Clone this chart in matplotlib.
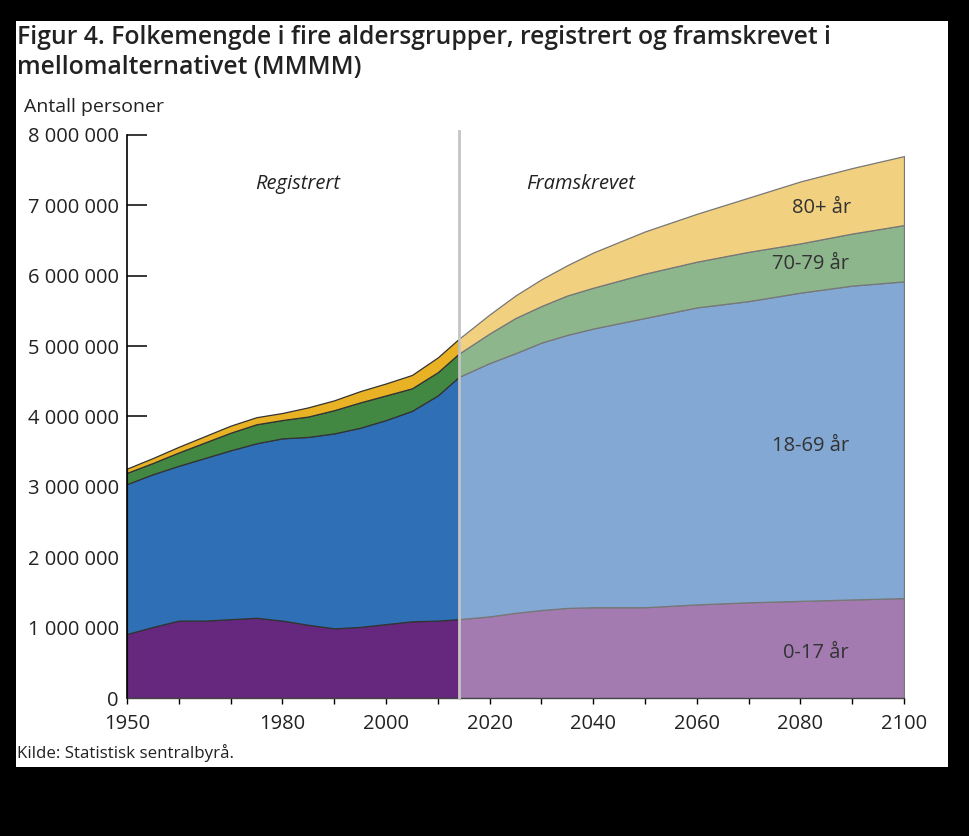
import numpy as np
import matplotlib
matplotlib.use("Agg")
from matplotlib import pyplot as plt
from matplotlib.patches import Rectangle
from matplotlib.ticker import FuncFormatter

plt.rcParams['font.family'] = ['Open Sans', 'DejaVu Sans']

# registrert (millioner personer)
years_reg = [1950, 1955, 1960, 1965, 1970, 1975, 1980, 1985, 1990, 1995, 2000, 2005, 2010, 2014]
reg_0_17 = [0.91, 1.01, 1.10, 1.10, 1.12, 1.14, 1.10, 1.04, 0.99, 1.01, 1.05, 1.09, 1.10, 1.12]
reg_18_69 = [2.13, 2.17, 2.20, 2.31, 2.40, 2.48, 2.59, 2.67, 2.77, 2.83, 2.90, 2.99, 3.20, 3.44]
reg_70_79 = [0.16, 0.16, 0.19, 0.22, 0.25, 0.27, 0.26, 0.29, 0.33, 0.36, 0.35, 0.32, 0.33, 0.33]
reg_80 = [0.06, 0.07, 0.08, 0.09, 0.10, 0.10, 0.10, 0.13, 0.14, 0.16, 0.17, 0.19, 0.21, 0.21]

# framskrevet, mellomalternativet (MMMM)
years_proj = [2014, 2020, 2025, 2030, 2035, 2040, 2050, 2060, 2070, 2080, 2090, 2100]
proj_0_17 = [1.12, 1.16, 1.21, 1.25, 1.28, 1.29, 1.29, 1.33, 1.36, 1.38, 1.40, 1.42]
proj_18_69 = [3.44, 3.60, 3.69, 3.80, 3.88, 3.96, 4.11, 4.22, 4.28, 4.38, 4.46, 4.50]
proj_70_79 = [0.33, 0.42, 0.50, 0.52, 0.56, 0.58, 0.63, 0.65, 0.70, 0.70, 0.74, 0.80]
proj_80 = [0.21, 0.27, 0.32, 0.38, 0.43, 0.50, 0.60, 0.68, 0.77, 0.88, 0.93, 0.98]

groups = ["0-17 år", "18-69 år", "70-79 år", "80+ år"]
c_reg = ["#65287e", "#2e6fb5", "#428843", "#e8b224"]
c_proj = ["#a37bb0", "#82a8d3", "#8db68c", "#f1d17f"]
txt = "#222222"

fig = plt.figure(figsize=(9.7, 8.36), dpi=100, facecolor="black")
fig.patches.append(Rectangle((16/970, 69/836), 932/970, 746/836, transform=fig.transFigure,
                             facecolor="white", edgecolor="none", zorder=-10))
ax = fig.add_axes([127/970, 138/836, 777/970, 563/836])
ax.set_zorder(2)
ax.set_facecolor("none")


def stack(x, layers, colors, edge):
    x = np.array(x)
    base = np.zeros(len(x))
    for vals, col in zip(layers, colors):
        top = base + np.array(vals) * 1e6
        ax.fill_between(x, base, top, facecolor=col, edgecolor=edge, linewidth=0.9, zorder=2)
        base = top


stack(years_reg, [reg_0_17, reg_18_69, reg_70_79, reg_80], c_reg, "#333333")
stack(years_proj, [proj_0_17, proj_18_69, proj_70_79, proj_80], c_proj, "#777777")

ax.axvline(2014, ymin=0, ymax=8.06/8, color="#c4c4c4", lw=2, zorder=4, clip_on=False)

ax.set_xlim(1950, 2100)
ax.set_ylim(0, 8e6)
ax.set_yticks(np.arange(0, 8e6 + 1, 1e6))
ax.yaxis.set_major_formatter(FuncFormatter(lambda v, p: f"{int(v):,}".replace(",", " ")))
ax.set_xticks(np.arange(1950, 2101, 10))
shown = [1950, 1980, 2000, 2020, 2040, 2060, 2080, 2100]
ax.set_xticklabels([str(y) if y in shown else "" for y in range(1950, 2101, 10)])

ax.tick_params(axis="y", direction="in", length=14.5, width=1.1, pad=6,
               labelsize=14.5, labelcolor=txt, color="black")
ax.tick_params(axis="x", direction="out", length=4.5, width=1, pad=7,
               labelsize=14.5, labelcolor=txt, color="black")
for s in ["top", "right"]:
    ax.spines[s].set_visible(False)
ax.spines["left"].set_color("black")
ax.spines["left"].set_linewidth(1.2)
ax.spines["bottom"].set_color("#444444")
ax.spines["bottom"].set_linewidth(1)
ax.spines["left"].set_zorder(5)

lab_pos = [(2083, 0.64e6), (2082, 3.58e6), (2082, 6.16e6), (2084, 6.96e6)]
for g, (x, y) in zip(groups, lab_pos):
    ax.text(x, y, g, ha="center", va="center", fontsize=14.5, color="#333333", zorder=6)

ax.text(1983, 7.30e6, "Registrert", ha="center", va="center", fontsize=14.5,
        style="italic", color=txt)
ax.text(2037.5, 7.30e6, "Framskrevet", ha="center", va="center", fontsize=14.5,
        style="italic", color=txt)

fig.text(17/970, 1 - 37/836, "Figur 4. Folkemengde i fire aldersgrupper, registrert og framskrevet i",
         ha="left", va="center", fontsize=17.8, fontweight="semibold", color=txt)
fig.text(17/970, 1 - 68/836, "mellomalternativet (MMMM)",
         ha="left", va="center", fontsize=17.8, fontweight="semibold", color=txt)
fig.text(24/970, 1 - 107/836, "Antall personer", ha="left", va="center", fontsize=14, color=txt)
fig.text(17/970, 1 - 753/836, "Kilde: Statistisk sentralbyrå.", ha="left", va="center",
         fontsize=12.2, color=txt)

plt.savefig("out.png", dpi=100, facecolor=fig.get_facecolor())
